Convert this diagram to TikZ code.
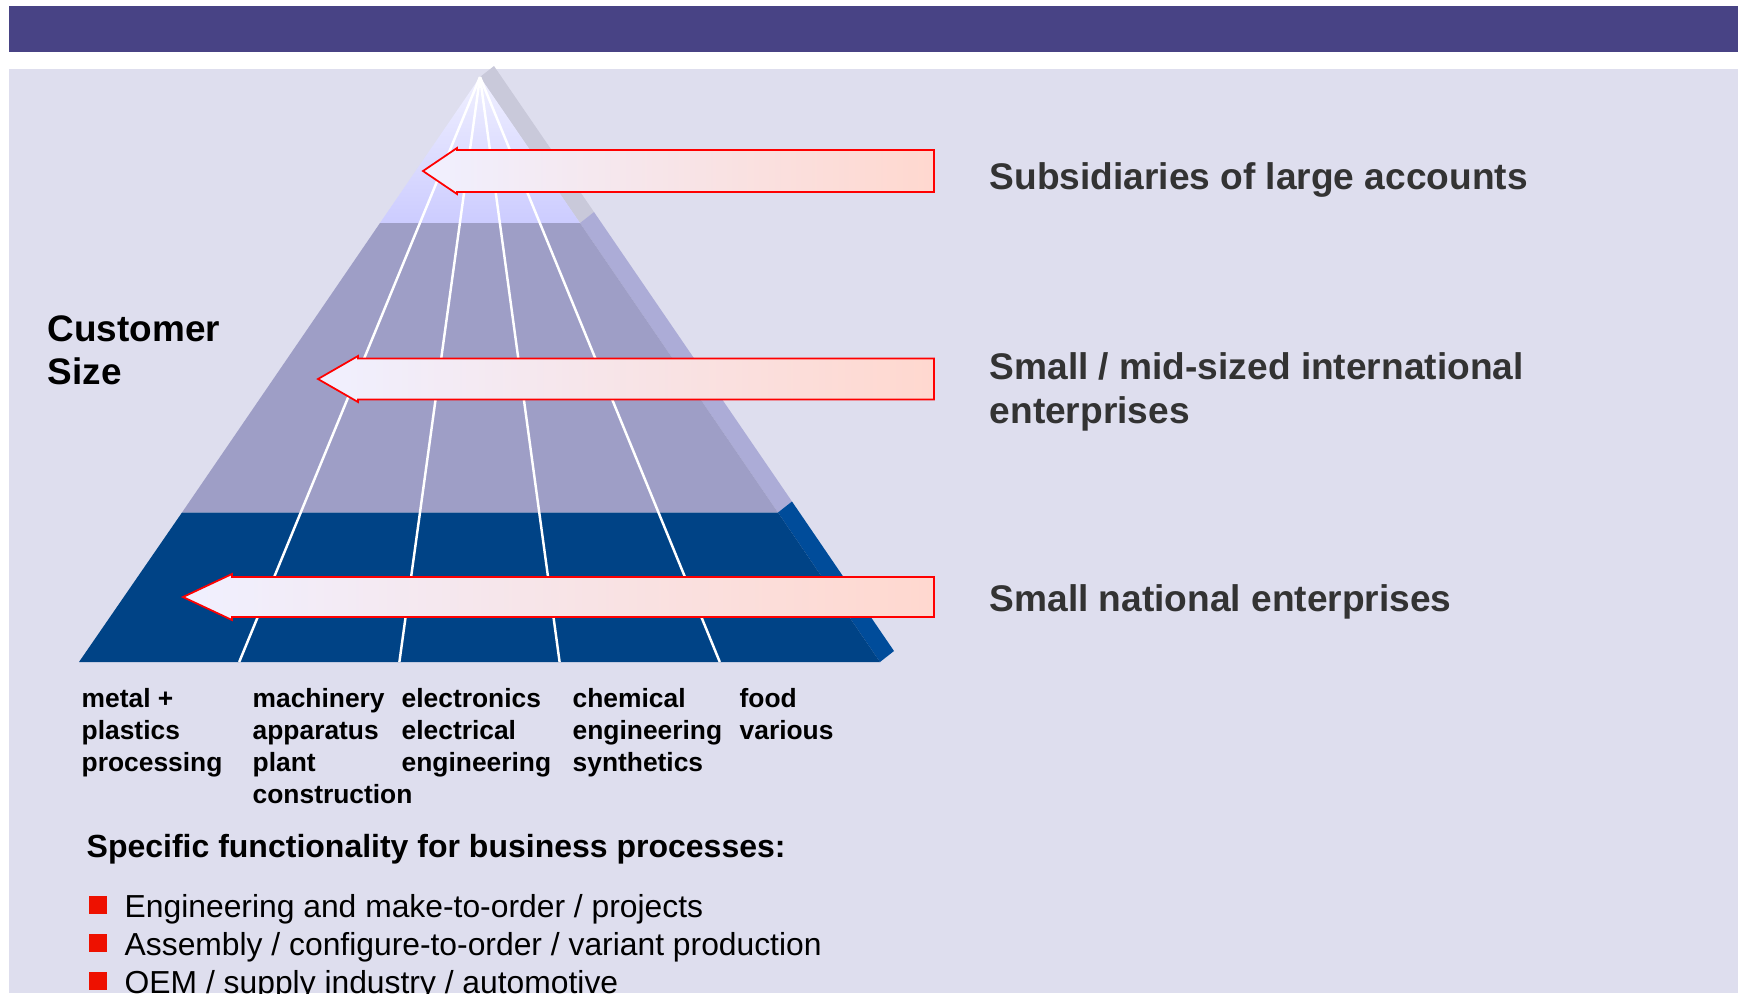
\documentclass[tikz,border=0pt]{standalone}
\usepackage{fontspec}
\setmainfont{Liberation Sans}
\usetikzlibrary{positioning,calc}
\definecolor{barBlue}{HTML}{484385}
\definecolor{panelGrey}{HTML}{DEDEEE}
\definecolor{bandTop}{HTML}{CCCCFF}
\definecolor{bandTopLight}{HTML}{F0F0FF}
\definecolor{bandMid}{HTML}{9E9EC6}
\definecolor{bandLow}{HTML}{004386}
\definecolor{sideTop}{HTML}{C9C9DA}
\definecolor{sideMid}{HTML}{ACACD7}
\definecolor{sideLow}{HTML}{004C9A}
\definecolor{arrowLeft}{HTML}{F0F0FF}
\definecolor{arrowRight}{HTML}{FFD8CF}
\definecolor{labelGrey}{HTML}{333333}
\definecolor{bulletRed}{HTML}{EE1100}
\tikzset{
        % Block arrows pointing into the pyramid
        arrow_block/.style={draw=red, line width=0.5pt, left color=arrowLeft, right color=arrowRight},
        % White lines splitting the industries
        fan_line/.style={white, line width=0.7pt},
        % Segment labels (anchored at the baseline of the last line)
        label_segment/.style={anchor=base west, align=left, inner sep=0pt, text=labelGrey, font=\fontsize{10.55}{12.5}\selectfont\bfseries},
        % Axis label
        label_axis/.style={anchor=base west, align=left, inner sep=0pt, font=\fontsize{10.5}{12}\selectfont\bfseries},
        % Industry labels
        label_industry/.style={anchor=base west, align=left, inner sep=0pt, font=\fontsize{7.5}{9.1}\selectfont\bfseries},
        % Process heading and items
        label_heading/.style={anchor=base west, inner sep=0pt, font=\fontsize{9.1}{11}\selectfont\bfseries},
        label_item/.style={anchor=base west, inner sep=0pt, font=\fontsize{9.05}{10.8}\selectfont},
        bullet_box/.style={rectangle, fill=bulletRed, inner sep=0pt, minimum size=0.18cm}
}
\begin{document}
\begin{tikzpicture}[x=0.01cm, y=-0.01cm]
    \useasboundingbox (0,0) rectangle (1741,993);
    \clip (0,0) rectangle (1741,993);
    % Title bar and panel
    \fill[barBlue] (9,5.5) rectangle (1738,51.5);
    \fill[panelGrey] (9,69) rectangle (1738,993);

    % Pyramid corners
    \coordinate (apex) at (480,77);
    \coordinate (base_l) at (79,662);
    \coordinate (base_r) at (880,662);
    \coordinate (top_l) at (380,223);
    \coordinate (top_r) at (580,223);
    \coordinate (mid_l) at (182,512.5);
    \coordinate (mid_r) at (778,512.5);

    % Side faces
    \fill[sideTop] (apex) -- ($(apex)+(14,-11)$) -- ($(top_r)+(14,-11)$) -- (top_r) -- cycle;
    \fill[sideMid] (top_r) -- ($(top_r)+(14,-11)$) -- ($(mid_r)+(14,-11)$) -- (mid_r) -- cycle;
    \fill[sideLow] (mid_r) -- ($(mid_r)+(14,-11)$) -- ($(base_r)+(14,-11)$) -- (base_r) -- cycle;

    % Front bands
    \shade[top color=bandTopLight, bottom color=bandTop] (apex) -- (top_r) -- (top_l) -- cycle;
    \fill[bandMid] (top_l) -- (top_r) -- (mid_r) -- (mid_l) -- cycle;
    \fill[bandLow] (mid_l) -- (mid_r) -- (base_r) -- (base_l) -- cycle;

    \draw[fan_line] (apex) -- ($(base_l)!0.2!(base_r)$);
    \draw[fan_line] (apex) -- ($(base_l)!0.4!(base_r)$);
    \draw[fan_line] (apex) -- ($(base_l)!0.6!(base_r)$);
    \draw[fan_line] (apex) -- ($(base_l)!0.8!(base_r)$);

    % Arrows
    \draw[arrow_block] (423,171) -- (457,148) -- (457,150) -- (934,150) -- (934,192) -- (457,192) -- (457,194) -- cycle;
    \draw[arrow_block] (318,379) -- (358,356) -- (358,358.5) -- (934,358.5) -- (934,399.5) -- (358,399.5) -- (358,402) -- cycle;
    \draw[arrow_block] (183,597) -- (232,574) -- (232,577) -- (934,577) -- (934,617) -- (232,617) -- (232,620) -- cycle;

    % Segments
    \node[label_segment] (seg_large) at (989,189) {Subsidiaries of large accounts};
    \node[label_segment] (seg_mid) at (989,423) {Small / mid-sized international\\enterprises};
    \node[label_segment] (seg_small) at (989,611) {Small national enterprises};
    \node[label_axis] (axis_size) at (47,384) {Customer\\Size};

    % Industries
    \node[label_industry] (ind_metal) at (81,771) {metal +\\plastics\\processing};
    \node[label_industry] (ind_machinery) at (252,803) {machinery\\apparatus\\plant\\construction};
    \node[label_industry] (ind_electronics) at (401,771) {electronics\\electrical\\engineering};
    \node[label_industry] (ind_chemical) at (572,771) {chemical\\engineering\\synthetics};
    \node[label_industry] (ind_food) at (739,739) {food\\various};

    % Business processes
    \node[label_heading] (proc_head) at (86,857) {Specific functionality for business processes:};
    \node[bullet_box] (bul_eng) at (98,904.5) {};
    \node[bullet_box] (bul_asm) at (98,942.5) {};
    \node[bullet_box] (bul_oem) at (98,981) {};
    \node[label_item] (proc_eng) at (124,917) {Engineering and make-to-order / projects};
    \node[label_item] (proc_asm) at (124,955) {Assembly / configure-to-order / variant production};
    \node[label_item] (proc_oem) at (124,993) {OEM / supply industry / automotive};
\end{tikzpicture}
\end{document}
